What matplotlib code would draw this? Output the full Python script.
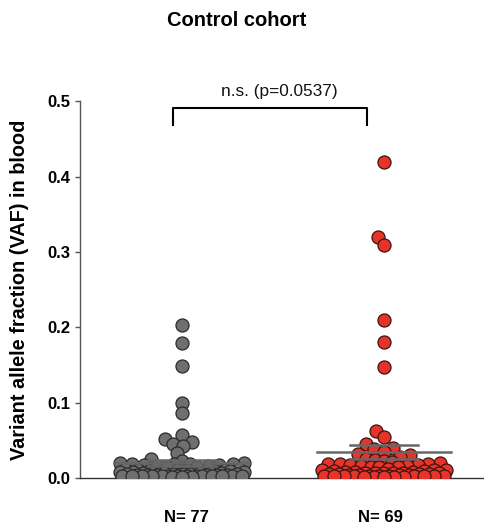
import numpy as np
import matplotlib
matplotlib.use("Agg")
import matplotlib.pyplot as plt
import matplotlib.transforms as mtransforms

plt.rcParams['font.family'] = ['Liberation Sans', 'DejaVu Sans']

title = "Control cohort"
ylabel = "Variant allele fraction (VAF) in blood"
group_labels = ["N= 77", "N= 69"]
pvalue_text = "n.s. (p=0.0537)"
yticks = [0.0, 0.1, 0.2, 0.3, 0.4, 0.5]

control_a = [0.203, 0.179, 0.149, 0.099, 0.086, 0.057, 0.052, 0.048, 0.045, 0.043, 0.033,
             0.025, 0.022, 0.020, 0.020, 0.019, 0.019, 0.018, 0.018, 0.017, 0.017, 0.016,
             0.016, 0.015, 0.015,
             0.012, 0.012, 0.011, 0.011, 0.010, 0.010, 0.010, 0.009, 0.009, 0.009, 0.008,
             0.008, 0.008, 0.008, 0.007, 0.007, 0.007, 0.007, 0.006, 0.006, 0.006, 0.006,
             0.006, 0.005, 0.005, 0.005, 0.005, 0.005, 0.005, 0.004, 0.004, 0.004, 0.004,
             0.004, 0.004, 0.003, 0.003, 0.003, 0.003, 0.003, 0.003, 0.003, 0.002, 0.002,
             0.002, 0.002, 0.002, 0.002, 0.002, 0.001, 0.001, 0.001]

control_b = [0.420, 0.320, 0.310, 0.210, 0.180, 0.148, 0.062, 0.055,
             0.045, 0.040, 0.038, 0.035, 0.032, 0.030, 0.028,
             0.025, 0.024, 0.022, 0.021, 0.020, 0.019, 0.018, 0.018, 0.017, 0.017,
             0.016, 0.016, 0.015, 0.015, 0.015,
             0.012, 0.011, 0.010, 0.010, 0.009, 0.009, 0.008, 0.008, 0.008, 0.007,
             0.007, 0.007, 0.006, 0.006, 0.006, 0.005, 0.005, 0.005, 0.005, 0.004,
             0.004, 0.004, 0.004, 0.003, 0.003, 0.003, 0.003, 0.003, 0.002, 0.002,
             0.002, 0.002, 0.002, 0.002, 0.001, 0.001, 0.001, 0.001, 0.001]

groups = [control_a, control_b]
positions = [1.0, 2.0]
face_colors = ["#6f6f6f", "#e8322a"]
edge_colors = ["#2b2b2b", "#3a1410"]

W, H, DPI = 4.84, 5.25, 100
fig = plt.figure(figsize=(W, H), dpi=DPI)
ax = fig.add_axes([80/484, 47/525, 403/484, (478-101.5)/525])
ax.set_xlim(0.495, 2.49)
ax.set_ylim(0, 0.5)

# pixel scales (for swarm layout)
px_per_y = (478 - 101.5) / 0.5
px_per_x = 403 / (2.49 - 0.495)


def swarm_offsets(vals, d, maxw):
    ypx = np.asarray(vals) * px_per_y
    order = np.argsort(ypx)
    cands = np.arange(-maxw, maxw + 0.5, 1.0)
    cands = cands[np.lexsort((cands, np.abs(cands)))]
    px_, py_ = [], []
    offs = np.zeros(len(ypx))
    for i in order:
        y = ypx[i]
        if px_:
            PX = np.array(px_); PY = np.array(py_)
            dist = np.sqrt((cands[:, None] - PX[None, :])**2 + (y - PY[None, :])**2).min(axis=1)
            ok = np.where(dist >= d)[0]
            if len(ok):
                o = cands[ok[0]]
            else:
                o = cands[np.argmax(dist)]
        else:
            o = 0.0
        offs[i] = o
        px_.append(o); py_.append(y)
    return offs / px_per_x


for vals, pos, fc, ec in zip(groups, positions, face_colors, edge_colors):
    vals = np.asarray(vals)
    offs = swarm_offsets(vals, 9.5, 62)
    ax.scatter(pos + offs, vals, s=88, facecolor=fc, edgecolor=ec, linewidth=0.9, zorder=3)
    m = vals.mean()
    sem = vals.std(ddof=1) / np.sqrt(len(vals))
    ax.plot([pos - 0.334, pos + 0.334], [m, m], color="#676767", lw=1.8, zorder=4)
    for yv in (m - sem, m + sem):
        ax.plot([pos - 0.167, pos + 0.167], [yv, yv], color="#676767", lw=1.8, zorder=4)

# significance bracket
bx0, bx1 = 0.955, 1.916
ax.plot([bx0, bx0, bx1, bx1], [0.469, 0.492, 0.492, 0.469], color="black", lw=1.5,
        clip_on=False, zorder=5)
ax.text(1.483, 0.503, pvalue_text, ha="center", va="bottom", fontsize=12.4, color="#111111")

for sp in ("top", "right"):
    ax.spines[sp].set_visible(False)
ax.spines["left"].set_color("#555555")
ax.spines["bottom"].set_color("#333333")
ax.spines["left"].set_linewidth(1.0)
ax.spines["bottom"].set_linewidth(1.0)

ax.set_xticks([])
ax.set_yticks(yticks)
ax.set_yticklabels([f"{t:.1f}" for t in yticks], fontsize=12, fontweight="bold")
ax.tick_params(axis="y", length=3.5, width=1, color="#555555", pad=3.5)

ax.set_ylabel(ylabel, fontsize=14.3, fontweight="bold")
ax.yaxis.set_label_coords((29 - 80) / 403, 0.5)

trans = mtransforms.blended_transform_factory(ax.transData, ax.transAxes)
label_x = [1.02, 1.98]
for x, lab in zip(label_x, group_labels):
    ax.text(x, -0.1036, lab, transform=trans, ha="center", va="center",
            fontsize=12, fontweight="bold")

fig.text(237/484, 1 - 21/525, title, ha="center", va="center", fontsize=14.5, fontweight="bold")

fig.savefig("out.png", dpi=DPI)
